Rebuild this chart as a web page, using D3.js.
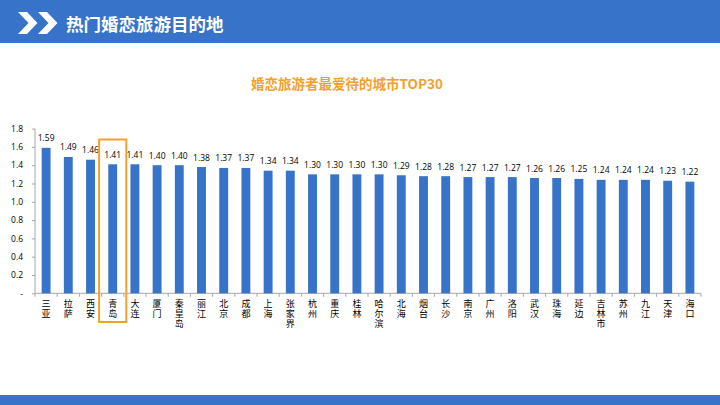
<!DOCTYPE html>
<html>
<head>
<meta charset="utf-8">
<title>热门婚恋旅游目的地</title>
<script src="https://cdn.jsdelivr.net/npm/d3@7"></script>
<style>
  body { margin: 0; background: #fff; }
  svg { display: block; font-family: "Noto Sans CJK SC", "Noto Sans", sans-serif; }
</style>
</head>
<body>
<div id="chart"></div>
<script>
// data
var cities = ["三亚","拉萨","西安","青岛","大连","厦门","秦皇岛","丽江","北京","成都",
              "上海","张家界","杭州","重庆","桂林","哈尔滨","北海","烟台","长沙","南京",
              "广州","洛阳","武汉","珠海","延边","吉林市","苏州","九江","天津","海口"];
var values = [1.59,1.49,1.46,1.41,1.41,1.40,1.40,1.38,1.37,1.37,
              1.34,1.34,1.30,1.30,1.30,1.30,1.29,1.28,1.28,1.27,
              1.27,1.27,1.26,1.26,1.25,1.24,1.24,1.24,1.23,1.22];
var yTicks = [0, 0.2, 0.4, 0.6, 0.8, 1.0, 1.2, 1.4, 1.6, 1.8];
var yTickLabels = ["-", "0.2", "0.4", "0.6", "0.8", "1.0", "1.2", "1.4", "1.6", "1.8"];
var highlight = "青岛";

var W = 720, H = 405;
var blue = "#3773c8", orange = "#f5a02c";

var svg = d3.select("#chart").append("svg")
    .attr("width", W)
    .attr("height", H);

// header band
svg.append("rect").attr("x", 0).attr("y", 0).attr("width", W).attr("height", 43).attr("fill", blue);
[0, 20].forEach(function(dx) {
    svg.append("polygon")
        .attr("points", [[18,12],[27,12],[37.5,23],[27,34],[18,34],[28.5,23]]
            .map(function(p) { return (p[0] + dx) + "," + p[1]; }).join(" "))
        .attr("fill", "#fff");
});
svg.append("text")
    .attr("x", 66).attr("y", 30.5)
    .attr("fill", "#fff")
    .style("font-size", "17.5px")
    .style("font-weight", "bold")
    .text("热门婚恋旅游目的地");

// footer band
svg.append("rect").attr("x", 0).attr("y", 395).attr("width", W).attr("height", 10).attr("fill", blue);

// chart title
svg.append("text")
    .attr("x", 347).attr("y", 89)
    .attr("text-anchor", "middle")
    .attr("fill", orange)
    .style("font-size", "13.5px")
    .style("font-weight", "bold")
    .text("婚恋旅游者最爱待的城市TOP30");

var plotLeft = 35, plotRight = 701, plotTop = 128.6, plotBottom = 293.3;

var x = d3.scaleBand()
    .domain(cities)
    .range([plotLeft, plotRight])
    .paddingInner(0.6)
    .paddingOuter(0.3);

var y = d3.scaleLinear()
    .domain([0, 1.8])
    .range([plotBottom, plotTop]);

// y axis
var yAxis = svg.append("g")
    .attr("transform", "translate(" + plotLeft + ",0)")
    .call(d3.axisLeft(y).tickValues(yTicks).tickSize(3).tickPadding(9)
        .tickFormat(function(d, i) { return yTickLabels[i]; }));
yAxis.selectAll("path, line").attr("stroke", "#a6a6a6");
yAxis.select(".domain").attr("d", "M0," + plotBottom + "V" + plotTop);
yAxis.selectAll("text").attr("fill", "#000").style("font-size", "8.5px")
    .style("font-family", "'Open Sans', 'Noto Sans', sans-serif");

// x axis: ticks on band boundaries
var step = x.step();
var xg = svg.append("g");
xg.append("line")
    .attr("x1", plotLeft).attr("x2", plotRight)
    .attr("y1", plotBottom).attr("y2", plotBottom)
    .attr("stroke", "#a6a6a6");
xg.selectAll(".tk").data(d3.range(cities.length + 1)).enter().append("line")
    .attr("x1", function(i) { return plotLeft + i * step; })
    .attr("x2", function(i) { return plotLeft + i * step; })
    .attr("y1", plotBottom).attr("y2", plotBottom + 3.5)
    .attr("stroke", "#a6a6a6");

// bars
svg.selectAll(".bar").data(values).enter().append("rect")
    .attr("x", function(d, i) { return x(cities[i]); })
    .attr("y", function(d) { return y(d); })
    .attr("width", x.bandwidth())
    .attr("height", function(d) { return plotBottom - y(d); })
    .attr("fill", blue);

// value labels
svg.selectAll(".val").data(values).enter().append("text")
    .attr("x", function(d, i) { return x(cities[i]) + x.bandwidth() / 2; })
    .attr("y", function(d) { return y(d) - 6.5; })
    .attr("text-anchor", "middle")
    .attr("fill", "#000")
    .style("font-size", "8.5px")
    .style("font-family", "'Open Sans', 'Noto Sans', sans-serif")
    .text(function(d) { return d.toFixed(2); });

// vertical category labels (stacked characters)
svg.selectAll(".cat").data(cities).enter().append("text")
    .attr("x", function(c) { return x(c) + x.bandwidth() / 2; })
    .attr("y", 299.5)
    .attr("fill", "#000")
    .style("writing-mode", "vertical-rl")
    .style("letter-spacing", "1px")
    .style("font-size", "9px")
    .text(function(c) { return c; });

// highlight box
svg.append("rect")
    .attr("x", plotLeft + cities.indexOf(highlight) * step - 2.5)
    .attr("y", 139.5)
    .attr("width", step + 5)
    .attr("height", 322 - 139.5)
    .attr("fill", "none")
    .attr("stroke", orange)
    .attr("stroke-width", 2);
</script>
</body>
</html>
